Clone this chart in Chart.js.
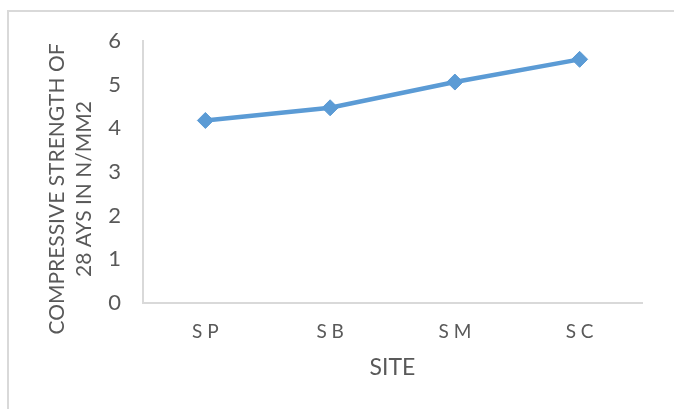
<!DOCTYPE html>
<html>
<head>
<meta charset="utf-8">
<script src="https://cdn.jsdelivr.net/npm/chart.js@4/dist/chart.umd.min.js"></script>
<style>
  html, body { margin: 0; padding: 0; background: #ffffff; }
  #wrap { width: 674px; height: 409px; position: relative; }
</style>
</head>
<body>
<div id="wrap"><canvas id="chart" width="674" height="409"></canvas></div>
<script>
// Site categories and 28-day compressive strength (N/mm2)
const categories = ['S P', 'S B', 'S M', 'S C'];
const strength = [4.18, 4.47, 5.06, 5.58];
const yTicks = [0, 1, 2, 3, 4, 5, 6];
const yTitleLines = ['COMPRESSIVE STRENGTH OF', '28 AYS IN N/MM2'];
const xTitle = 'SITE';

const FONT = 'Lato, "Open Sans", "Liberation Sans", sans-serif';
const TEXT = '#595959';
const AXIS = '#d9d9d9';
const BLUE = '#5b9bd5';

// Light frame around the chart object
const framePlugin = {
  id: 'frame',
  beforeDraw(chart) {
    const ctx = chart.ctx;
    ctx.save();
    ctx.fillStyle = '#ffffff';
    ctx.fillRect(0, 0, chart.width, chart.height);
    ctx.strokeStyle = AXIS;
    ctx.lineWidth = 2;
    ctx.strokeRect(8, 11, chart.width + 20, chart.height + 20);
    ctx.restore();
  }
};

// Two-line vertical title for the value axis
const yTitlePlugin = {
  id: 'yTitle',
  afterDraw(chart) {
    const ctx = chart.ctx;
    ctx.save();
    ctx.fillStyle = TEXT;
    ctx.font = '21px ' + FONT;
    ctx.textAlign = 'center';
    ctx.textBaseline = 'middle';
    const xs = [57, 84];
    yTitleLines.forEach((line, i) => {
      ctx.save();
      ctx.translate(xs[i], 189);
      ctx.rotate(-Math.PI / 2);
      ctx.fillText(line, 0, 0);
      ctx.restore();
    });
    ctx.restore();
  }
};

new Chart(document.getElementById('chart'), {
  type: 'line',
  data: {
    labels: categories,
    datasets: [{
      data: strength,
      borderColor: BLUE,
      backgroundColor: BLUE,
      borderWidth: 4.5,
      pointStyle: 'rectRot',
      pointRadius: 8,
      pointHoverRadius: 8,
      pointBorderWidth: 1,
      pointBorderColor: BLUE,
      pointBackgroundColor: BLUE,
      tension: 0,
      fill: false
    }]
  },
  options: {
    responsive: false,
    animation: false,
    devicePixelRatio: 1,
    layout: { padding: { left: 0, right: 32, top: 41, bottom: 28 } },
    plugins: {
      legend: { display: false },
      tooltip: { enabled: false }
    },
    scales: {
      x: {
        type: 'category',
        offset: true,
        grid: { display: false, drawTicks: false },
        border: { display: true, color: AXIS, width: 2 },
        ticks: { color: TEXT, font: { family: FONT, size: 19 }, padding: 17 },
        title: {
          display: true,
          text: xTitle,
          color: TEXT,
          font: { family: FONT, size: 23, lineHeight: 1.2 },
          padding: 0
        },
        afterFit(scale) { scale.height = 78; }
      },
      y: {
        min: 0,
        max: 6,
        afterBuildTicks(scale) { scale.ticks = yTicks.map(v => ({ value: v })); },
        grid: { display: false, drawTicks: false },
        border: { display: true, color: AXIS, width: 2 },
        ticks: { color: TEXT, font: { family: FONT, size: 22 }, padding: 22 },
        afterFit(scale) { scale.width = 143; }
      }
    }
  },
  plugins: [framePlugin, yTitlePlugin]
});
</script>
</body>
</html>
